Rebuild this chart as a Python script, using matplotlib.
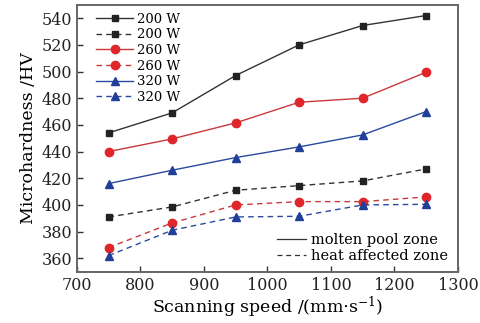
import matplotlib
matplotlib.use("Agg")
import matplotlib.pyplot as plt
from matplotlib.lines import Line2D

plt.rcParams['font.family'] = ['DejaVu Serif']
plt.rcParams['mathtext.fontset'] = 'dejavuserif'

speed = [750, 850, 950, 1050, 1150, 1250]

# molten pool zone (solid)
mp_200 = [454, 469, 497, 520, 534.5, 542]
mp_260 = [440, 449.5, 461.5, 477, 480, 499.5]
mp_320 = [416, 426, 435.5, 443.5, 452.5, 470]

# heat affected zone (dashed)
haz_200 = [391, 398.5, 411, 414.5, 418, 427]
haz_260 = [368, 386.5, 400, 402.5, 402.5, 406]
haz_320 = [362, 381, 391, 391.5, 400, 400.5]

labels = ["200 W", "260 W", "320 W"]
colors = ["#222222", "#e0262b", "#213f98"]
line_colors = ["#333333", "#c9393c", "#2a4aa0"]
markers = ["s", "o", "^"]
msizes = [5.0, 6.0, 6.0]

fig = plt.figure(figsize=(4.8, 3.23), dpi=100)
ax = fig.add_axes([0.160, 0.159, 0.794, 0.826])

solid = [mp_200, mp_260, mp_320]
dashed = [haz_200, haz_260, haz_320]
for i in range(3):
    ax.plot(speed, solid[i], color=line_colors[i], lw=1.0, marker=markers[i],
            ms=msizes[i], mfc=colors[i], mec=colors[i], label=labels[i])
    ax.plot(speed, dashed[i], color=line_colors[i], lw=1.0, ls=(0, (4, 3)),
            marker=markers[i], ms=msizes[i], mfc=colors[i], mec=colors[i],
            label=labels[i])

handles, labs = ax.get_legend_handles_labels()
leg1 = ax.legend(handles, labs, loc="upper left", frameon=False, fontsize=9.5,
                 handlelength=2.8, handletextpad=0.3, labelspacing=0.2,
                 borderaxespad=0.2, bbox_to_anchor=(0.03, 1.0))
ax.add_artist(leg1)

zone_handles = [Line2D([], [], color="#333333", lw=0.9),
                Line2D([], [], color="#333333", lw=0.9, ls=(0, (4, 3)))]
ax.legend(zone_handles, ["molten pool zone", "heat affected zone"],
          loc="lower right", frameon=False, fontsize=10.5, handlelength=2.0,
          handletextpad=0.3, labelspacing=0.1, borderaxespad=0.3,
          bbox_to_anchor=(1.0, -0.005))

ax.set_xlim(700, 1300)
ax.set_ylim(350, 550)
ax.set_xticks(range(700, 1301, 100))
ax.set_yticks(range(360, 541, 20))
ax.tick_params(direction="in", length=4, width=1.0, labelsize=11.5,
               top=False, right=False, colors="#333333", labelcolor="#222222")
for s in ax.spines.values():
    s.set_color("#666666")
    s.set_linewidth(1.4)

ax.set_xlabel("Scanning speed /(mm$\\cdot$s$^{-1}$)", fontsize=12.5, labelpad=1)
ax.set_ylabel("Microhardness /HV", fontsize=12.5, labelpad=3)

fig.savefig("out.png", dpi=100)
